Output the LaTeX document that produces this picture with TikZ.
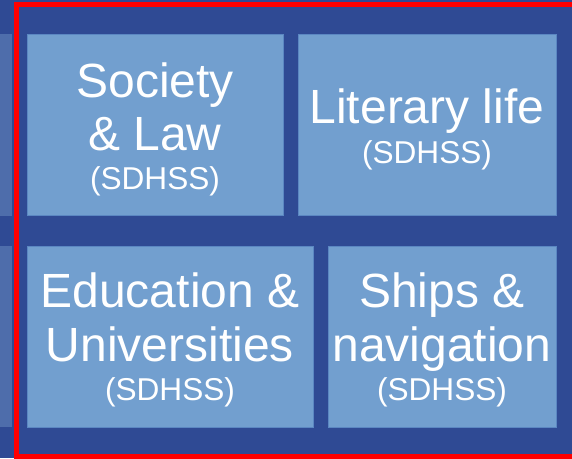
\documentclass[tikz,border=0pt]{standalone}
\usepackage{fontspec}
\setmainfont{Liberation Sans}
\definecolor{bgblue}{HTML}{2F4A94}
\definecolor{boxfill}{HTML}{729FCF}
\definecolor{boxline}{HTML}{5B87C2}
\definecolor{stripblue}{HTML}{4E6DAB}
\definecolor{framered}{HTML}{FF0000}
\tikzset{
  tile/.style={draw=boxline, line width=0.8pt, fill=boxfill, inner sep=0pt, outer sep=0pt},
  big/.style={text=white, anchor=base, inner sep=0pt, font=\fontsize{48}{54}\selectfont},
  small/.style={text=white, anchor=base, inner sep=0pt, font=\fontsize{31.6}{36}\selectfont},
}
\begin{document}
\begin{tikzpicture}[x=1pt, y=-1pt]
\useasboundingbox (0,0) rectangle (572,458);
\clip (0,0) rectangle (572,458);
\fill[bgblue] (0,0) rectangle (572,458);
% partial tiles at the left edge
\fill[stripblue] (-5,34) rectangle (12,216);
\fill[stripblue] (-5,246) rectangle (12,427);
% tiles
\node[tile, minimum width=256pt, minimum height=181pt] (soc) at (155,124.5) {};
\node[tile, minimum width=258pt, minimum height=181pt] (lit) at (427,124.5) {};
\node[tile, minimum width=286pt, minimum height=181pt] (edu) at (170,336.5) {};
\node[tile, minimum width=228pt, minimum height=181pt] (shp) at (442,336.5) {};
% texts
\node[big] (soc1) at (155,97) {Society};
\node[big] (soc2) at (155,150) {\&\ Law};
\node[small] (soc3) at (155,189) {(SDHSS)};
\node[big] (lit1) at (427,123) {Literary life};
\node[small] (lit2) at (427,163) {(SDHSS)};
\node[big] (edu1) at (170,307) {Education \&};
\node[big] (edu2) at (170,361) {Universities};
\node[small] (edu3) at (170,400) {(SDHSS)};
\node[big] (shp1) at (442,307) {Ships \&};
\node[big] (shp2) at (442,361) {navigation};
\node[small] (shp3) at (442,400) {(SDHSS)};
% red frame
\draw[framered, line width=5.5pt] (16.3,4.3) rectangle (590,456.5);
\end{tikzpicture}
\end{document}
